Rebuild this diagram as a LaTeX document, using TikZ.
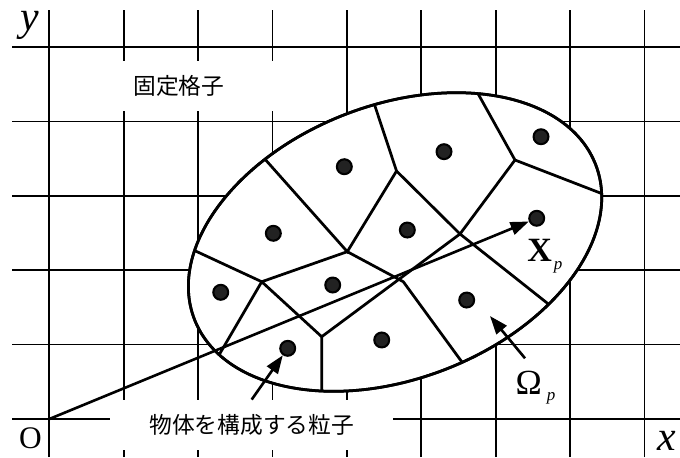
\documentclass[tikz,border=0pt]{standalone}
\usepackage{fontspec}
\newfontfamily\tms{Liberation Serif}
\newfontfamily\jp{Noto Sans CJK JP}
\usetikzlibrary{arrows.meta, calc}
\definecolor{dotgray}{HTML}{222222}

\begin{document}
\begin{tikzpicture}[gridline/.style={line width=0.65pt}, border/.style={line width=1.05pt}, arrow/.style={line width=1pt, -{Triangle[length=7pt, width=5pt]}}, particle/.style={circle, draw, line width=0.8pt, fill=dotgray, minimum size=0.2cm, inner sep=0pt}, caption/.style={fill=white, inner sep=0pt, minimum height=0.67cm, font=\jp\fontsize{8.7}{8.7}\selectfont}, body/.style={rotate around={21:(c)}}]
\useasboundingbox (-0.663,-0.511) rectangle (8.477,5.632);
\foreach \i in {0,...,8} \draw[gridline] (\i,-0.511) -- (\i,5.497);
\foreach \j in {0,...,5} \draw[gridline] (-0.501,\j) -- (8.477,\j);
\node[caption, minimum width=2.55cm] (lattice) at (1.742,4.476) {固定格子};
\node[caption, minimum width=3.8cm] (material) at (2.720,-0.081) {物体を構成する粒子};
\coordinate (O) at (0,0);
\coordinate (c) at (4.647,2.379);
\draw[border, fill=white, body] (c) ellipse [x radius=2.890, y radius=1.841];
\coordinate (A) at (4.005,2.249);
\coordinate (B) at (2.855,1.845);
\coordinate (C) at (4.758,1.845);
\coordinate (D) at (5.520,2.487);
\coordinate (E) at (3.661,1.106);
\coordinate (V1) at (4.667,3.333);
\coordinate (V2) at (6.259,3.481);
\coordinate (r1) at (2.872,3.522);
\coordinate (r2) at (4.368,4.234);
\coordinate (r3) at (5.780,4.341);
\coordinate (r4) at (7.415,3.034);
\coordinate (r5) at (6.707,1.546);
\coordinate (r6) at (5.543,0.770);
\coordinate (r7) at (3.661,0.413);
\coordinate (r8) at (2.294,0.883);
\coordinate (r9) at (1.935,2.272);
\begin{scope}
\clip[body] (c) ellipse [x radius=2.890, y radius=1.841];
\draw[border] ($(A)!1.2!(r1)$) -- (A) -- (V1) -- ($(V1)!1.2!(r2)$);
\draw[border] (A) -- (B) -- ($(B)!1.2!(r9)$);
\draw[border] (B) -- ($(B)!1.2!(r8)$);
\draw[border] (B) -- (E) -- ($(E)!1.2!(r7)$);
\draw[border] (E) -- (D);
\draw[border] (A) -- (C) -- ($(C)!1.2!(r6)$);
\draw[border] (V1) -- (D) -- ($(D)!1.2!(r5)$);
\draw[border] ($(V2)!1.2!(r3)$) -- (V2) -- ($(V2)!1.2!(r4)$);
\draw[border] (V2) -- (D);
\end{scope}
\draw[border, body] (c) ellipse [x radius=2.890, y radius=1.841];
\node[particle] (p1) at (3.965,3.391) {};
\node[particle] (p2) at (5.305,3.593) {};
\node[particle] (p3) at (6.609,3.794) {};
\node[particle] (p4) at (3.011,2.496) {};
\node[particle] (p5) at (4.812,2.540) {};
\node[particle] (p6) at (6.551,2.698) {};
\node[particle] (p7) at (2.304,1.703) {};
\node[particle] (p8) at (3.809,1.801) {};
\node[particle] (p9) at (5.610,1.599) {};
\node[particle] (p10) at (3.204,0.950) {};
\node[particle] (p11) at (4.468,1.062) {};
\coordinate (om0) at (6.394,0.816);
\coordinate (om) at (5.923,1.384);
\draw[arrow] (O) -- (p6);
\draw[arrow] (material.north) -- (p10);
\draw[arrow] (om0) -- (om);
\node[anchor=base, inner sep=0pt, font=\tms\fontsize{16}{16}\selectfont\itshape] (ylab) at (-0.259,5.220) {y};
\node[anchor=base, inner sep=0pt, font=\tms\fontsize{16}{16}\selectfont\itshape] (xlab) at (8.30,-0.430) {x};
\node[anchor=base, inner sep=0pt, font=\tms\fontsize{12}{12}\selectfont] (olab) at (-0.253,-0.390) {O};
\node[anchor=base west, inner sep=0pt] (xp) at (6.417,2.114) {\tms\fontsize{13}{13}\selectfont\textbf{X}\kern0.8pt\raisebox{-3pt}{\fontsize{6.5}{6.5}\selectfont\itshape p}};
\node[anchor=base west, inner sep=0pt] (omega) at (6.260,0.323) {\tms\fontsize{13.5}{13.5}\selectfont Ω\kern1.9pt\raisebox{-2.2pt}{\fontsize{6.5}{6.5}\selectfont\itshape p}};
\end{tikzpicture}
\end{document}
